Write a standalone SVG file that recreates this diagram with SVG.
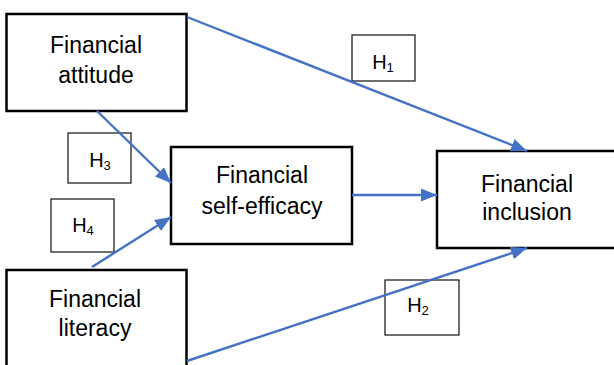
<svg xmlns="http://www.w3.org/2000/svg" width="614" height="365" viewBox="0 0 614 365">
<style>
.node{fill:#fff;stroke:#000;stroke-width:2.5}
.hbox{fill:#fff;stroke:#222;stroke-width:1.3}
.t{font-family:"Liberation Sans",Arial,sans-serif;font-size:23px;fill:#000;text-anchor:middle}
.h{font-family:"Liberation Sans",Arial,sans-serif;font-size:20px;fill:#000;text-anchor:middle}
.sub{font-size:13px}
.c{stroke:#4472C4;stroke-width:2.4;fill:none;marker-end:url(#ah)}
</style>
<defs>
<marker id="ah" markerUnits="userSpaceOnUse" markerWidth="16" markerHeight="13" refX="16" refY="6.5" orient="auto">
<path d="M0,0 L16,6.5 L0,13 z" fill="#4472C4"/>
</marker>
</defs>
<rect width="614" height="365" fill="#fff"/>
<g id="h1"><rect class="hbox" x="352" y="35" width="63" height="46"/><text class="h" x="383" y="69">H<tspan class="sub" dy="3">1</tspan></text></g>
<g id="h3"><rect class="hbox" x="68" y="133" width="63" height="50"/><text class="h" x="100" y="167">H<tspan class="sub" dy="3">3</tspan></text></g>
<g id="h4"><rect class="hbox" x="51" y="199" width="63" height="53"/><text class="h" x="83" y="232">H<tspan class="sub" dy="3">4</tspan></text></g>
<g id="h2"><rect class="hbox" x="385" y="280" width="74" height="55"/><text class="h" x="418" y="312">H<tspan class="sub" dy="3">2</tspan></text></g>
<g id="attitude"><rect class="node" x="6.5" y="14" width="180" height="97"/><text class="t" x="96" y="53">Financial</text><text class="t" x="96" y="83">attitude</text></g>
<g id="self-efficacy"><rect class="node" x="171" y="147" width="181" height="97"/><text class="t" x="262" y="183">Financial</text><text class="t" x="262" y="214">self-efficacy</text></g>
<g id="inclusion"><rect class="node" x="437" y="151" width="190" height="97"/><text class="t" x="527" y="192">Financial</text><text class="t" x="527" y="220">inclusion</text></g>
<g id="literacy"><rect class="node" x="6.5" y="270" width="180" height="110"/><text class="t" x="95" y="307">Financial</text><text class="t" x="95" y="336">literacy</text></g>
<g id="connectors">
<line class="c" x1="187" y1="17" x2="527" y2="151"/>
<line class="c" x1="97" y1="111" x2="171" y2="183"/>
<line class="c" x1="92" y1="267" x2="171" y2="217"/>
<line class="c" x1="352" y1="195" x2="437" y2="195"/>
<line class="c" x1="187" y1="361" x2="527" y2="248"/>
</g>
</svg>
